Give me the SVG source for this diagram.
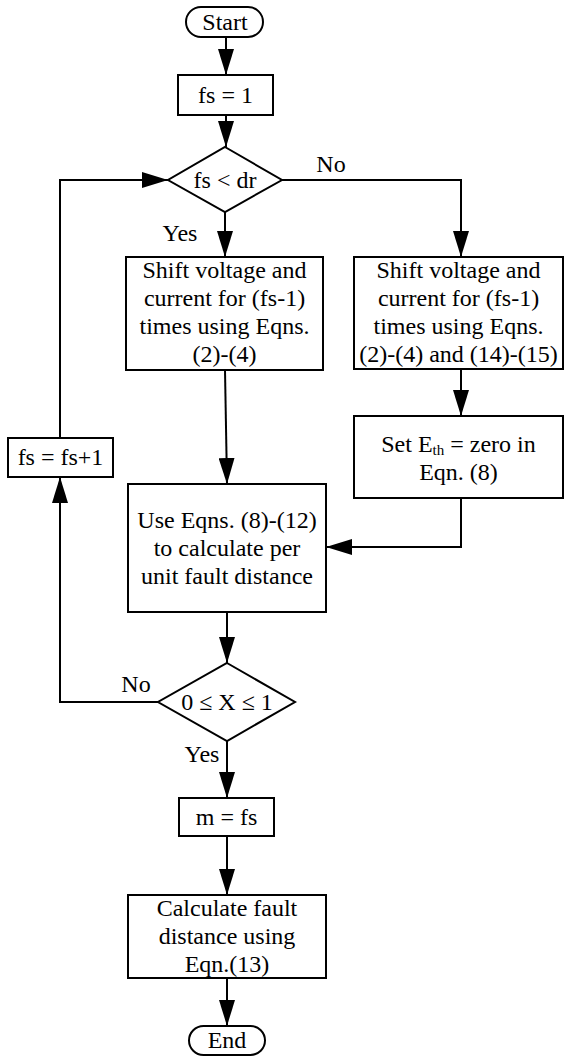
<svg xmlns="http://www.w3.org/2000/svg" width="565" height="1057" viewBox="0 0 565 1057" font-family="'Liberation Serif', 'DejaVu Serif', serif">
<defs>
<marker id="arr" markerUnits="userSpaceOnUse" markerWidth="26" markerHeight="16" refX="26" refY="8" orient="auto">
<path d="M0,0 L26,8 L0,16 z" fill="#000"/>
</marker>
<style>
.s{fill:#fff;stroke:#000;stroke-width:2}
.c{fill:none;stroke:#000;stroke-width:2}
.t{font-family:'Liberation Serif','DejaVu Serif',serif;font-size:24px;fill:#000;text-anchor:middle}
</style>
</defs>
<rect width="565" height="1057" fill="#fff"/>
<g id="connectors">
<path class="c" d="M226,37 V75" marker-end="url(#arr)"/>
<path class="c" d="M226,115 V147" marker-end="url(#arr)"/>
<path class="c" d="M225,212 V257" marker-end="url(#arr)"/>
<path class="c" d="M282,180 H461 V257" marker-end="url(#arr)"/>
<path class="c" d="M461,369 V416" marker-end="url(#arr)"/>
<path class="c" d="M225,370 L227,484" marker-end="url(#arr)"/>
<path class="c" d="M461,498 V547 H326" marker-end="url(#arr)"/>
<path class="c" d="M227,612 V663" marker-end="url(#arr)"/>
<path class="c" d="M158,702 H60 V477" marker-end="url(#arr)"/>
<path class="c" d="M60,438 V180 H168" marker-end="url(#arr)"/>
<path class="c" d="M227,741 V798" marker-end="url(#arr)"/>
<path class="c" d="M227,836 V895" marker-end="url(#arr)"/>
<path class="c" d="M227,978 V1026" marker-end="url(#arr)"/>
<text class="t" x="331" y="172">No</text>
<text class="t" x="180" y="241">Yes</text>
<text class="t" x="136" y="692">No</text>
<text class="t" x="202" y="762">Yes</text>
</g>
<g id="start">
<rect class="s" x="186" y="7" width="77" height="30" rx="15"/>
<text class="t" x="225" y="30">Start</text>
</g>
<g id="init">
<rect class="s" x="178" y="75" width="95" height="40"/>
<text class="t" x="225.5" y="103">fs = 1</text>
</g>
<g id="dec1">
<polygon class="s" points="225,147 282,180 225,212 168,180"/>
<text class="t" x="225" y="188">fs &lt; dr</text>
</g>
<g id="shiftA">
<rect class="s" x="126" y="257" width="197" height="113"/>
<text class="t" x="224.5" y="278">Shift voltage and</text>
<text class="t" x="224.5" y="306">current for (fs-1)</text>
<text class="t" x="224.5" y="334">times using Eqns.</text>
<text class="t" x="224.5" y="362">(2)-(4)</text>
</g>
<g id="shiftB">
<rect class="s" x="354" y="257" width="209" height="112"/>
<text class="t" x="458.5" y="278">Shift voltage and</text>
<text class="t" x="458.5" y="306">current for (fs-1)</text>
<text class="t" x="458.5" y="334">times using Eqns.</text>
<text class="t" x="458.5" y="362">(2)-(4) and (14)-(15)</text>
</g>
<g id="seteth">
<rect class="s" x="354" y="416" width="209" height="82"/>
<text class="t" x="458.5" y="452">Set E<tspan font-size="15" dy="3">th</tspan><tspan dy="-3"> = zero in</tspan></text>
<text class="t" x="458.5" y="480">Eqn. (8)</text>
</g>
<g id="incr">
<rect class="s" x="8" y="438" width="105" height="39"/>
<text class="t" x="60.5" y="465">fs = fs+1</text>
</g>
<g id="calcpu">
<rect class="s" x="128" y="484" width="198" height="128"/>
<text class="t" x="227" y="528">Use Eqns. (8)-(12)</text>
<text class="t" x="227" y="556">to calculate per</text>
<text class="t" x="227" y="584">unit fault distance</text>
</g>
<g id="dec2">
<polygon class="s" points="227,663 295,702 227,741 158,702"/>
<text class="t" x="227" y="710">0 ≤ X ≤ 1</text>
</g>
<g id="assign">
<rect class="s" x="179" y="798" width="95" height="38"/>
<text class="t" x="226.5" y="825">m = fs</text>
</g>
<g id="calcfd">
<rect class="s" x="128" y="895" width="198" height="83"/>
<text class="t" x="227" y="916">Calculate fault</text>
<text class="t" x="227" y="944">distance using</text>
<text class="t" x="227" y="972">Eqn.(13)</text>
</g>
<g id="end">
<rect class="s" x="189" y="1026" width="76" height="29" rx="14.5"/>
<text class="t" x="227" y="1048">End</text>
</g>
</svg>
